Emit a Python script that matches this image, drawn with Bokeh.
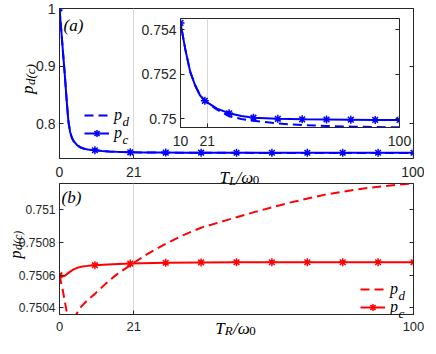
from bokeh.plotting import figure
from bokeh.layouts import column
from bokeh.models import (Range1d, FixedTicker, CustomJSTickFormatter, LinearAxis,
                          Label, Legend, LegendItem, GridBox)
from bokeh.embed import file_html
from bokeh.resources import INLINE

# ---------------- data ----------------
# panel (a): p vs T_L/omega0
a_x = [0, 0.5, 1, 1.5, 2, 2.5, 3, 3.5, 4, 5, 6, 7, 8, 9, 10, 12, 14, 16, 18, 20,
       25, 30, 35, 40, 50, 60, 70, 80, 90, 100]
a_pc = [1.0, 0.962, 0.923, 0.885, 0.843, 0.805, 0.786, 0.776, 0.770, 0.763, 0.759,
        0.7568, 0.7557, 0.7549, 0.7543, 0.7531, 0.7521, 0.7515, 0.75105, 0.7508,
        0.75045, 0.75024, 0.75012, 0.75004, 0.74999, 0.74997, 0.74996, 0.74995,
        0.74994, 0.74994]
a_pd = [1.0, 0.962, 0.923, 0.885, 0.843, 0.805, 0.786, 0.776, 0.770, 0.763, 0.759,
        0.7568, 0.7557, 0.7549, 0.7543, 0.7531, 0.7521, 0.7515, 0.75105, 0.7508,
        0.7504, 0.75011, 0.74998, 0.7499, 0.74978, 0.74971, 0.74967, 0.74964,
        0.74962, 0.74961]
# panel (b): p vs T_R/omega0
b_xc = [0, 0.5, 1, 1.5, 2, 3, 4, 5, 6, 8, 10, 15, 20, 30, 40, 50, 60, 70, 80, 90, 100]
b_pc = [0.7506, 0.750594, 0.750593, 0.750597, 0.750605, 0.750622, 0.750636, 0.750645,
        0.750651, 0.750657, 0.750661, 0.750667, 0.750671, 0.750676, 0.750678, 0.750679,
        0.750679, 0.750679, 0.750679, 0.750679, 0.750679]
b_xd = [0, 0.5, 1, 1.5, 2, 2.5, 3, 3.5, 4, 4.5, 5, 6, 8, 10, 13, 16, 21, 25, 30, 35,
        40, 47, 55, 65, 75, 85, 95, 100]
b_pd = [0.7506, 0.75055, 0.7505, 0.75044, 0.75038, 0.75034, 0.75031, 0.7503, 0.75032,
        0.750352, 0.75037, 0.750405, 0.75045, 0.750486, 0.750547, 0.750602, 0.750676,
        0.750732, 0.750792, 0.750845, 0.75089, 0.750935, 0.750985, 0.751043, 0.751092,
        0.751127, 0.751152, 0.75116]

a_xticks = [0, 21, 100]
a_yticks = [0.8, 0.9, 1]
in_xticks = [10, 21, 100]
in_yticks = [0.75, 0.752, 0.754]
b_xticks = [0, 21, 100]
b_yticks = [0.7504, 0.7506, 0.7508, 0.751]

BLUE = "#0000ff"
RED = "#ff0000"
AX = "#262626"
GRID = "#d9d9d9"
SANS = "Liberation Sans"
SERIF = "Liberation Serif"

fmt_code = "return Number(tick.toFixed(6)).toString();"


def style(p, xticks, yticks, fs, xstand=8):
    p.outline_line_color = AX
    p.outline_line_width = 1
    for ax in (p.xaxis[0], p.yaxis[0]):
        ax.axis_line_color = AX
        ax.major_tick_line_color = AX
        ax.major_tick_in = 4
        ax.major_tick_out = 0
        ax.minor_tick_line_color = None
        ax.major_label_text_font = SANS
        ax.major_label_text_font_size = fs
        ax.major_label_text_color = AX
        ax.formatter = CustomJSTickFormatter(code=fmt_code)
    p.xaxis[0].ticker = FixedTicker(ticks=xticks)
    p.yaxis[0].ticker = FixedTicker(ticks=yticks)
    p.xaxis[0].major_label_standoff = xstand
    p.yaxis[0].major_label_standoff = 4
    p.xgrid.ticker = FixedTicker(ticks=[21])
    p.xgrid.grid_line_color = GRID
    p.ygrid.visible = False
    rax = LinearAxis(ticker=FixedTicker(ticks=yticks),
                     formatter=CustomJSTickFormatter(code="return '';"),
                     major_label_text_font_size="1px", major_label_standoff=0,
                     major_tick_in=4, major_tick_out=0, minor_tick_line_color=None,
                     axis_line_color=AX, major_tick_line_color=AX)
    p.add_layout(rax, "right")


def legend(p, items, loc):
    leg = Legend(items=items, location=loc, padding=0, margin=0, spacing=0,
                 border_line_color=None, background_fill_alpha=0,
                 glyph_width=25, glyph_height=18, label_height=18, label_standoff=5,
                 label_text_font=SERIF, label_text_font_style="italic",
                 label_text_font_size="16px", label_text_color="black")
    p.add_layout(leg)


# ---------------- panel (a) ----------------
pa = figure(width=424, height=182, x_range=Range1d(0, 100), y_range=Range1d(0.74, 1),
            output_backend="svg", toolbar_location=None,
            min_border_left=59, min_border_right=11, min_border_top=8, min_border_bottom=24)
style(pa, a_xticks, a_yticks, "14px")
ra_d = pa.line(a_x, a_pd, line_color=BLUE, line_width=2, line_dash="9 5")
ra_c = pa.line(a_x, a_pc, line_color=BLUE, line_width=2)
mk_a = [i for i, v in enumerate(a_x) if v % 10 == 0]
ra_m = pa.scatter([a_x[i] for i in mk_a], [a_pc[i] for i in mk_a], marker="asterisk",
                  size=8, line_color=BLUE, line_width=1.5)
legend(pa, [LegendItem(label="p", renderers=[ra_d]),
            LegendItem(label="p", renderers=[ra_c, ra_m])], (25, 16))

# ---------------- inset ----------------
ins = figure(width=274, height=139, x_range=Range1d(10, 100), y_range=Range1d(0.7496, 0.7545),
             output_backend="svg", toolbar_location=None,
             min_border_left=42, min_border_right=13, min_border_top=8, min_border_bottom=22)
ins.border_fill_color = None
ins.background_fill_color = "white"
style(ins, in_xticks, in_yticks, "14px", xstand=8)
ins.line(a_x, a_pd, line_color=BLUE, line_width=2, line_dash="9 5")
ins.line(a_x, a_pc, line_color=BLUE, line_width=2)
ins.scatter([a_x[i] for i in mk_a], [a_pc[i] for i in mk_a], marker="asterisk",
            size=8, line_color=BLUE, line_width=1.5)

# ---------------- panel (b) ----------------
pb = figure(width=424, height=156, x_range=Range1d(0, 100), y_range=Range1d(0.75036, 0.75116),
            output_backend="svg", toolbar_location=None,
            min_border_left=59, min_border_right=11, min_border_top=1, min_border_bottom=24)
style(pb, b_xticks, b_yticks, "13px", xstand=7)
pb.yaxis[0].major_label_text_font_size = "12px"
rb_d = pb.line(b_xd, b_pd, line_color=RED, line_width=2, line_dash="9 5")
rb_c = pb.line(b_xc, b_pc, line_color=RED, line_width=2)
mk_b = [i for i, v in enumerate(b_xc) if v % 10 == 0]
rb_m = pb.scatter([b_xc[i] for i in mk_b], [b_pc[i] for i in mk_b], marker="asterisk",
                  size=8, line_color=RED, line_width=1.5)
legend(pb, [LegendItem(label="p", renderers=[rb_d]),
            LegendItem(label="p", renderers=[rb_c, rb_m])], (301, -2))

# ---------------- text overlay (page pixel coordinates) ----------------
ov = figure(width=424, height=338, x_range=Range1d(8, 432), y_range=Range1d(346, 8),
            output_backend="svg", toolbar_location=None, x_axis_type=None, y_axis_type=None,
            min_border_left=0, min_border_right=0, min_border_top=0, min_border_bottom=0)
ov.background_fill_color = None
ov.border_fill_color = None
ov.outline_line_color = None
ov.grid.visible = False


def mlabel(x, y, text, size, angle=0.0, italic=True):
    ov.add_layout(Label(x=x, y=y, text=text, angle=angle,
                        text_font=SERIF, text_font_style="italic" if italic else "normal",
                        text_font_size=f"{size}px", text_color="black",
                        text_baseline="alphabetic", text_align="left"))


R90 = 1.5707963
# panel tags
mlabel(71, 33, "(a)", 17)
mlabel(69, 205.3, "(b)", 17)
# x label (a): T_L / omega_0
mlabel(227, 185, "T", 17)
mlabel(236.5, 187.8, "L", 13)
mlabel(244, 185, "/ω", 17)
mlabel(260.3, 187.8, "0", 13, italic=False)
# x label (b): T_R / omega_0
mlabel(222.7, 335.5, "T", 17)
mlabel(232.2, 338, "R", 13)
mlabel(240.5, 335.5, "/ω", 17)
mlabel(256.8, 338, "0", 13, italic=False)
# y labels p_{d(c)}
mlabel(34.5, 101.6, "p", 17, angle=R90)
mlabel(37.5, 92.6, "d(c)", 13, angle=R90)
mlabel(22.5, 266, "p", 16, angle=R90)
mlabel(25, 257.5, "d(c)", 12, angle=R90)
# legend subscripts
mlabel(130, 129, "d", 13)
mlabel(130, 147, "c", 13)
mlabel(406, 303, "d", 13)
mlabel(406, 321, "c", 13)

# wrap each plot so the grid does not align their frames
wa = column(pa)
wi = column(ins)
wi.margin = (10, 0, 0, 138)
wb = column(pb)
wo = column(ov)
grid = GridBox(children=[(wa, 0, 0), (wi, 0, 0), (wb, 1, 0), (wo, 0, 0, 2, 1)], spacing=0)

open("out.html", "w").write(file_html(grid, INLINE))
